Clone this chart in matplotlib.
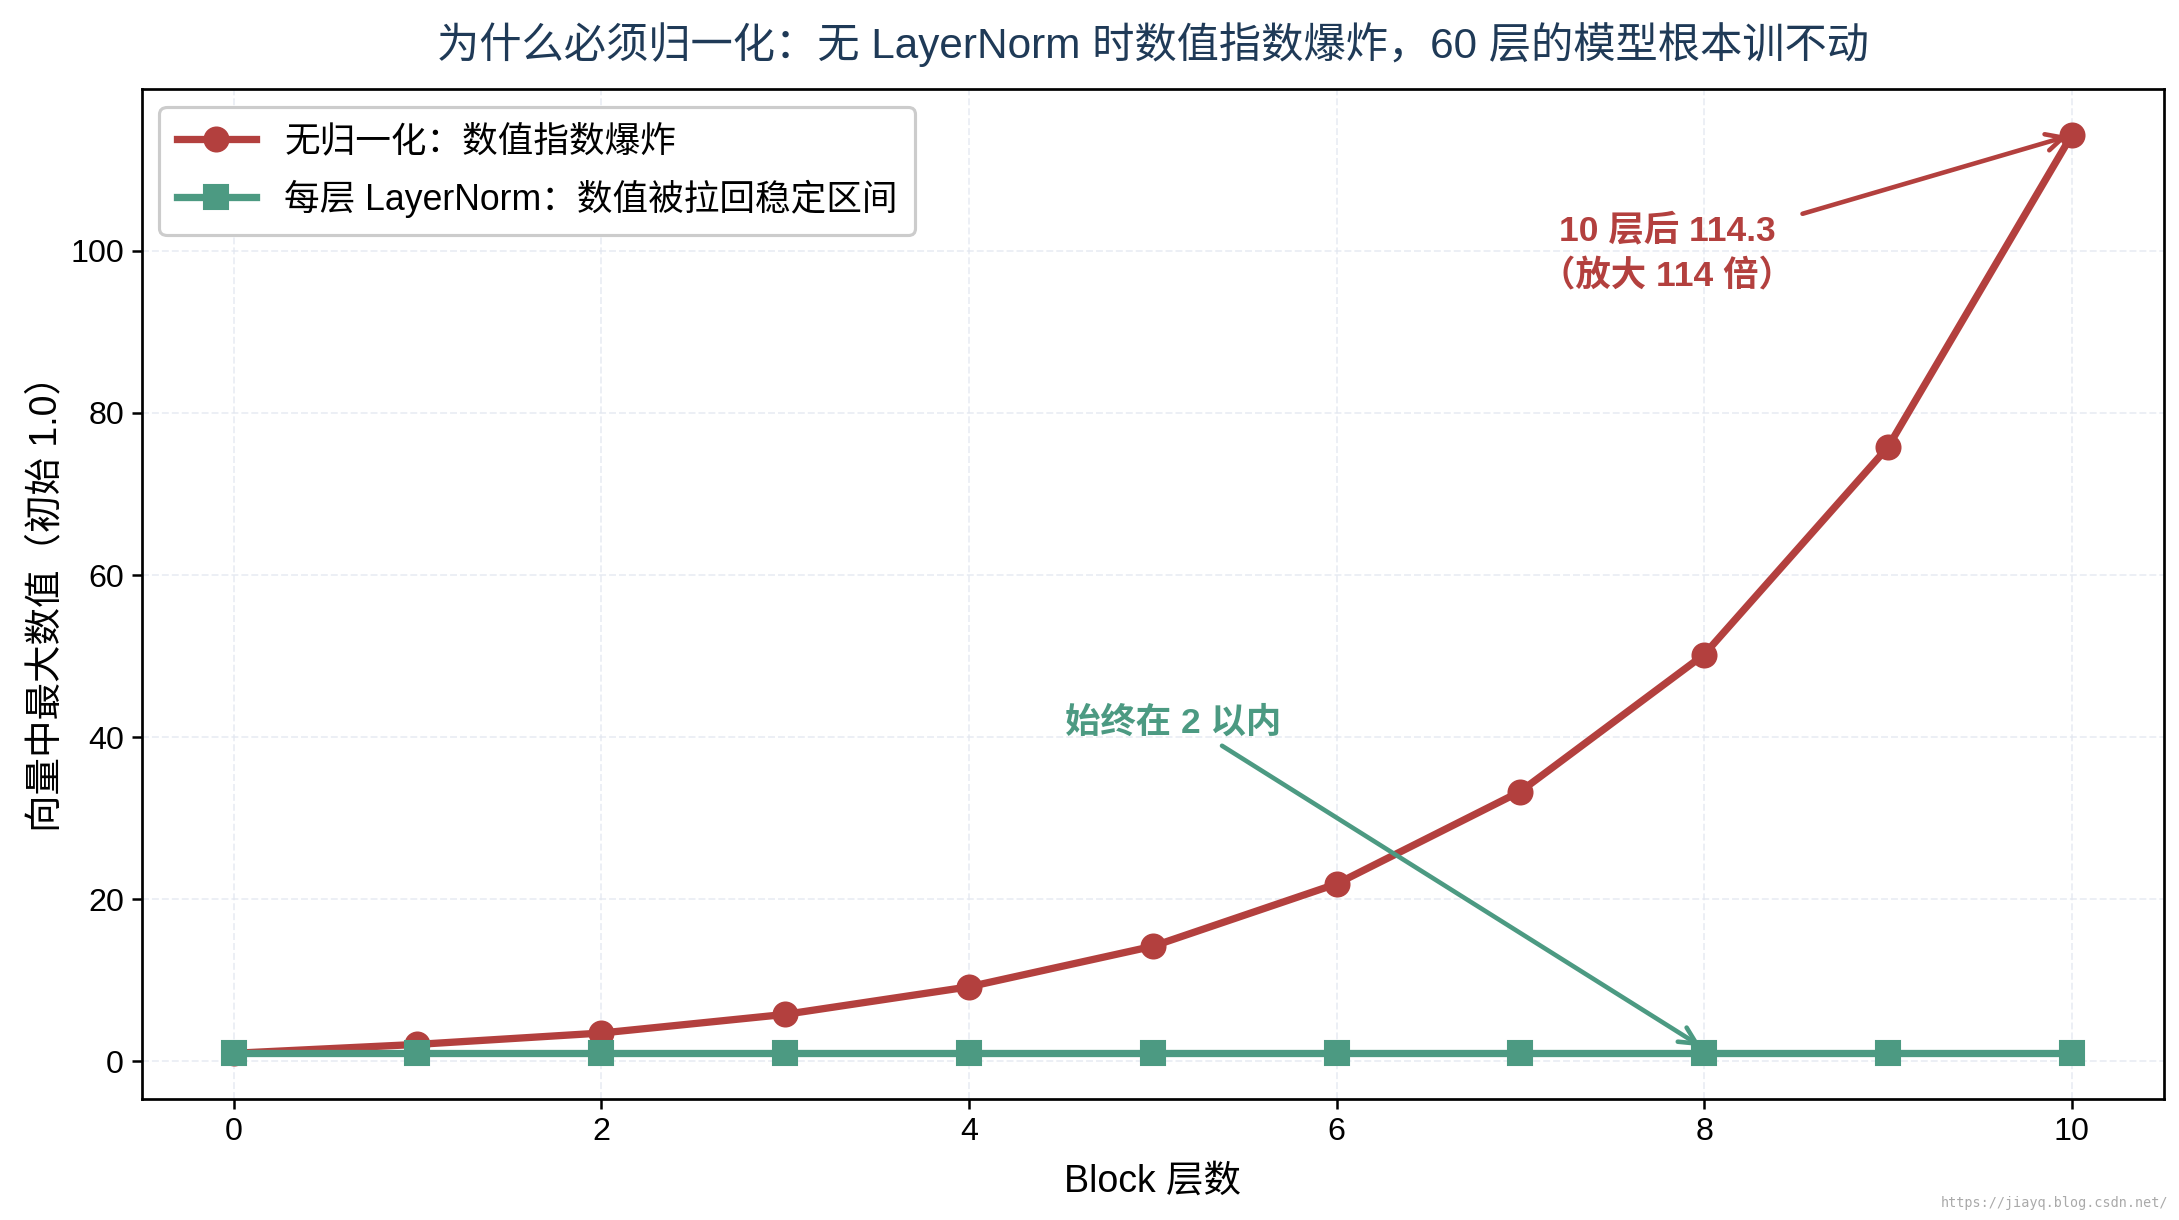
import numpy as np
import matplotlib
matplotlib.use("Agg")
import matplotlib.pyplot as plt

plt.rcParams['font.family'] = ['Liberation Sans', 'Noto Sans CJK SC', 'DejaVu Sans']
plt.rcParams['axes.unicode_minus'] = False

# data
layers = list(range(11))
no_norm = [1.0, 2.1, 3.5, 5.8, 9.2, 14.2, 21.9, 33.3, 50.2, 75.8, 114.3]
with_norm = [1.0, 1.0, 1.0, 1.0, 1.0, 1.0, 1.0, 1.0, 1.0, 1.0, 1.0]

red = '#b3403e'
green = '#4c9a82'

fig = plt.figure(figsize=(2179 / 150, 1220 / 150), dpi=150)
ax = fig.add_axes([0.065, 0.099, 0.928, 0.828])

ax.plot(layers, no_norm, color=red, lw=3.5, marker='o', ms=11.5,
        label='无归一化：数值指数爆炸', zorder=3)
ax.plot(layers, with_norm, color=green, lw=3.5, marker='s', ms=11.5,
        label='每层 LayerNorm：数值被拉回稳定区间', zorder=3)

ax.annotate('10 层后 114.3\n（放大 114 倍）', xy=(layers[-1], no_norm[-1]),
            xytext=(7.8, 99.7), ha='center', va='center', ma='center',
            fontsize=17, fontweight='bold', color=red, linespacing=1.45,
            arrowprops=dict(arrowstyle='->', color=red, lw=2.2,
                            mutation_scale=20))
ax.annotate('始终在 2 以内', xy=(8, 1.6), xytext=(5.11, 41.8),
            ha='center', va='center', fontsize=17, fontweight='bold',
            color=green,
            arrowprops=dict(arrowstyle='->', color=green, lw=2.2,
                            mutation_scale=20, relpos=(0.68, 0.0)))

ax.set_title('为什么必须归一化：无 LayerNorm 时数值指数爆炸，60 层的模型根本训不动',
             fontsize=20.3, color='#1f3a57', pad=15)
ax.set_xlabel('Block 层数', fontsize=18, labelpad=8)
ax.set_ylabel('向量中最大数值（初始 1.0）', fontsize=18, labelpad=3)

ax.tick_params(labelsize=15.5, length=5, width=1.2)
ax.grid(True, linestyle='--', color='#e1e6ef', lw=0.9, alpha=0.65)
for s in ax.spines.values():
    s.set_linewidth(1.3)
    s.set_color('black')

leg = ax.legend(loc='upper left', fontsize=17.1, frameon=True, fancybox=True,
                edgecolor='#cccccc', framealpha=1.0, handlelength=2.2,
                borderpad=0.5, labelspacing=0.55)
leg.get_frame().set_linewidth(1.5)

fig.text(0.995, 0.008, 'https://jiayq.blog.csdn.net/', ha='right', va='bottom',
         fontsize=6.5, color='#aaaaaa', family='DejaVu Sans Mono')

fig.savefig('out.png', dpi=150)
